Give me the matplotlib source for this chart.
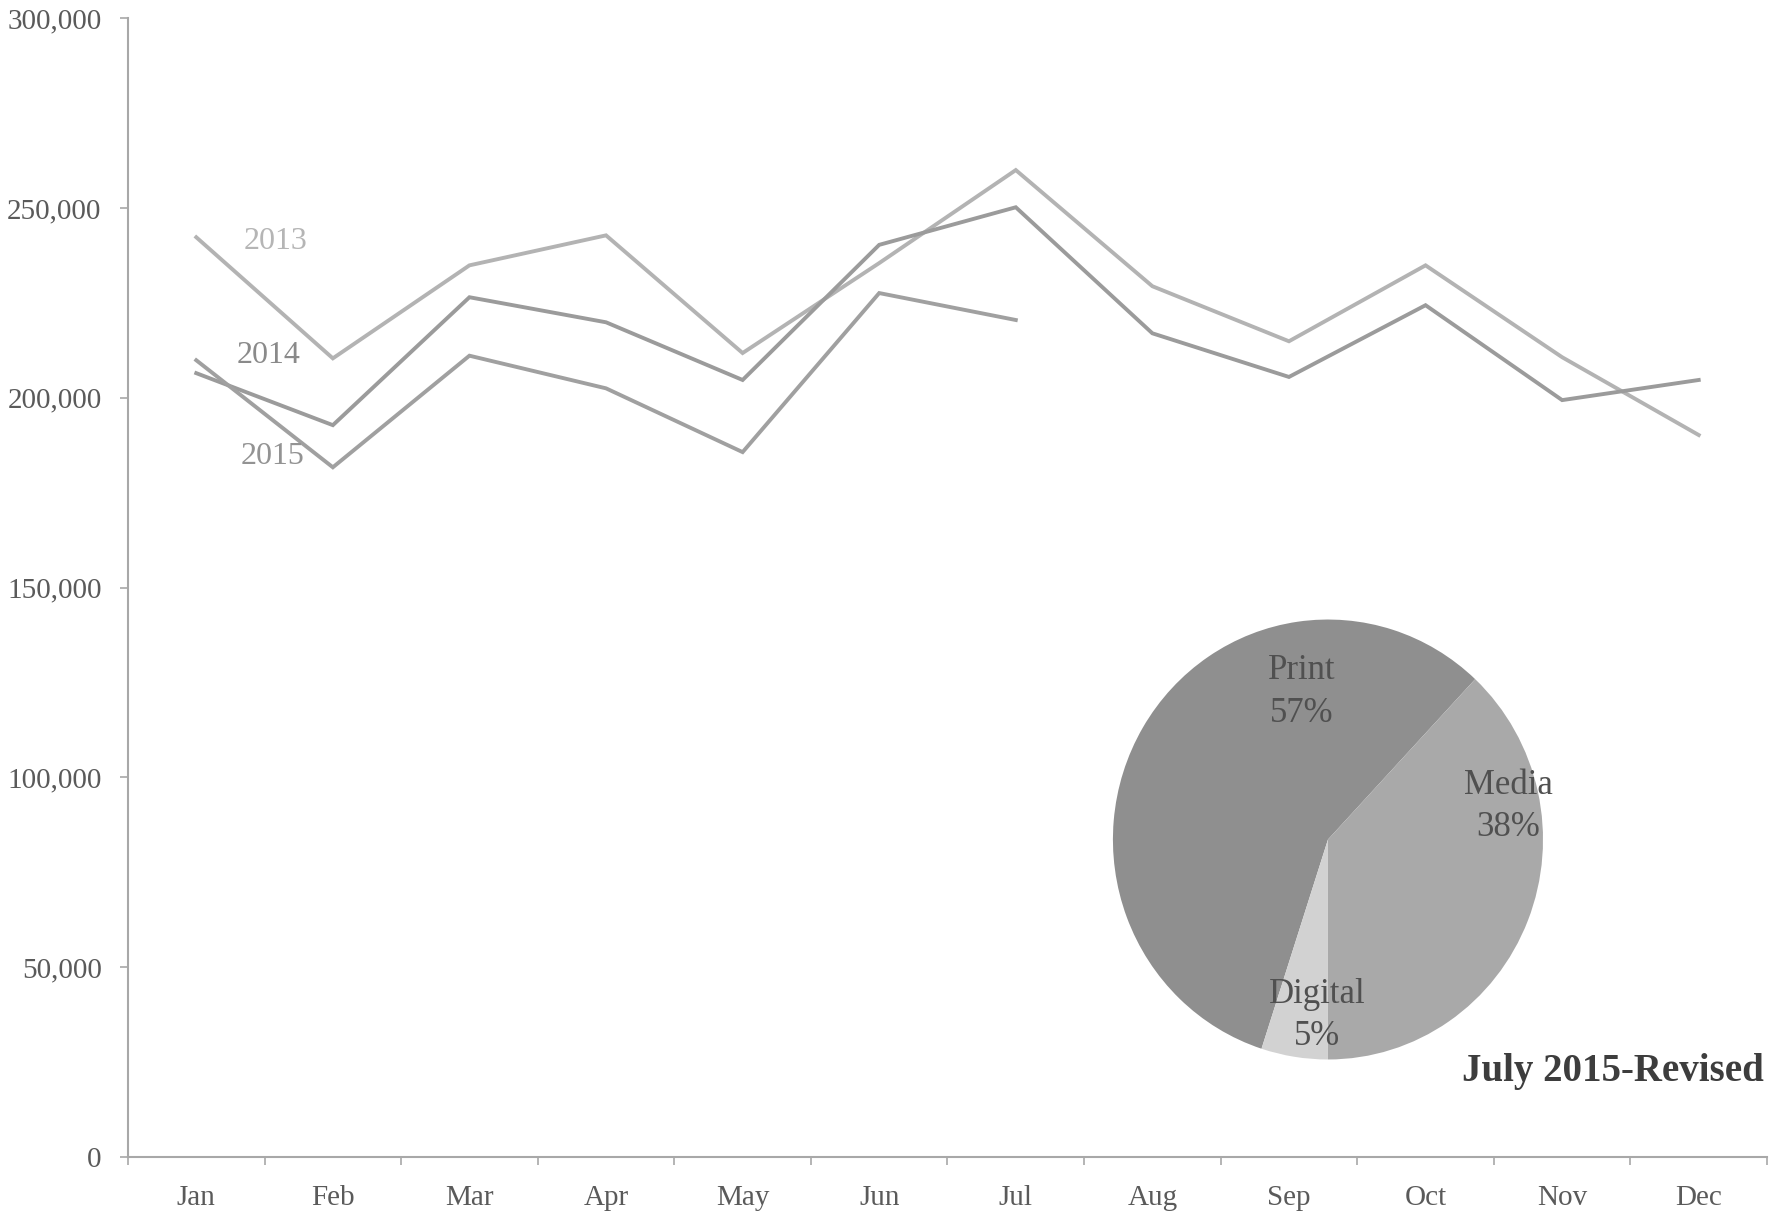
import matplotlib.pyplot as plt
import numpy as np

months = ['Jan', 'Feb', 'Mar', 'Apr', 'May', 'Jun',
          'Jul', 'Aug', 'Sep', 'Oct', 'Nov', 'Dec']
sales_2013 = [242300, 210400, 234900, 242800, 211800, 235500,
              260000, 229400, 214900, 234900, 210700, 190200]
sales_2014 = [206500, 192800, 226500, 219900, 204700, 240300,
              250200, 217000, 205500, 224400, 199400, 204700]
sales_2015 = [209900, 181700, 211100, 202500, 185700, 227600, 220500]

pie_labels = ['Print', 'Media', 'Digital']
pie_shares = [57, 38, 5]

plt.rcParams['font.family'] = ['Liberation Serif', 'DejaVu Serif']

fig = plt.figure(figsize=(17.75, 12.15), dpi=100)
ax = fig.add_axes([0.0721, 0.0477, 0.9234, 0.9373])

x = np.arange(len(months))
ax.plot(x, sales_2013, color='#b3b3b3', lw=2.8, solid_joinstyle='miter')
ax.plot(x, sales_2014, color='#9b9b9b', lw=2.8, solid_joinstyle='miter')
ax.plot(x[:len(sales_2015)], sales_2015, color='#a0a0a0', lw=2.8,
        solid_joinstyle='miter')

ax.text(0.58, 241200, '2013', color='#b5b5b5', fontsize=23,
        ha='center', va='center')
ax.text(0.53, 211100, '2014', color='#8a8a8a', fontsize=23,
        ha='center', va='center')
ax.text(0.56, 184600, '2015', color='#939393', fontsize=23,
        ha='center', va='center')

ax.set_xlim(-0.5, 11.5)
ax.set_ylim(0, 300000)
ax.set_yticks(np.arange(0, 300001, 50000))
ax.set_yticklabels([f'{v:,}' for v in range(0, 300001, 50000)])
ax.set_xticks(np.arange(-0.5, 12, 1))
ax.set_xticklabels([])
ax.set_xticks(x, minor=True)
ax.set_xticklabels(months, minor=True)

for side in ['top', 'right']:
    ax.spines[side].set_visible(False)
for side in ['left', 'bottom']:
    ax.spines[side].set_color('#a8a8a8')
    ax.spines[side].set_linewidth(1.5)

ax.tick_params(axis='y', direction='out', length=6, width=1.2,
               color='#a8a8a8', pad=13, labelsize=21, labelcolor='#5a5a5a')
ax.tick_params(axis='x', which='major', direction='out', length=6,
               width=1.2, color='#a8a8a8')
ax.tick_params(axis='x', which='minor', length=0, pad=20, labelsize=21,
               labelcolor='#5a5a5a')

# pie inset for the July split
pax = fig.add_axes([0.6270, 0.1280, 0.2423, 0.3621])
wedges, _ = pax.pie(pie_shares, colors=['#8f8f8f', '#a9a9a9', '#d2d2d2'],
                    startangle=252, counterclock=False,
                    wedgeprops=dict(linewidth=0))
pax.set_aspect('auto')
pax.set_xlim(-1, 1)
pax.set_ylim(-1, 1)
label_pos = [(-0.12, 0.67), (0.84, 0.15), (-0.05, -0.80)]
for name, share, (lx, ly) in zip(pie_labels, pie_shares, label_pos):
    pax.text(lx, ly, f'{name}\n{share}%', ha='center', va='center',
             fontsize=25, color='#505050', linespacing=1.38)

fig.text(0.9938, 0.1177, 'July 2015-Revised', ha='right', va='center',
         fontsize=28, fontweight='bold', color='#3d3d3d')

fig.savefig('out.png', dpi=100, facecolor='white')
